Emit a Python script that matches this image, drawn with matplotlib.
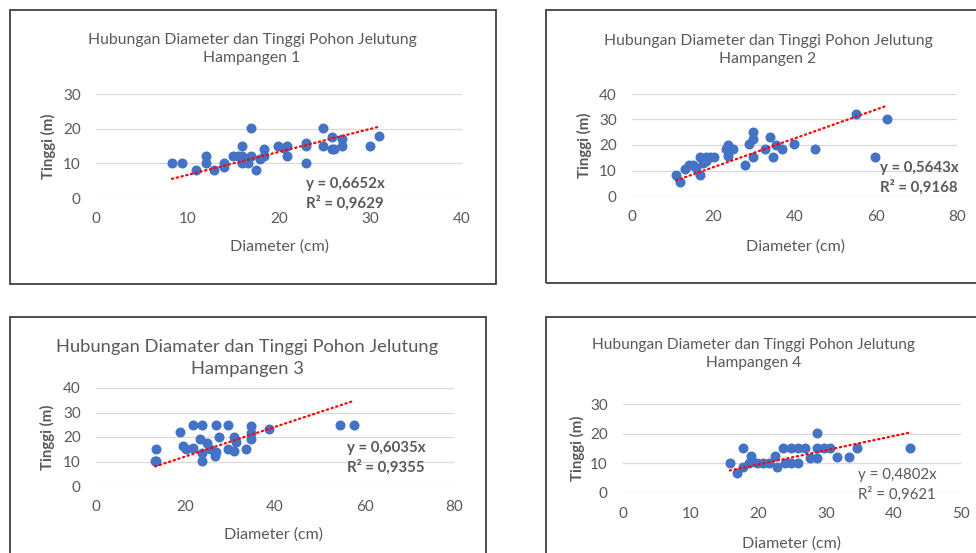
import matplotlib
matplotlib.use("Agg")
import matplotlib.pyplot as plt
from matplotlib.patches import Rectangle

plt.rcParams['font.family'] = ['Lato', 'DejaVu Sans']

W, H = 976, 553

# data (diameter cm, tinggi m)
d1 = [8.3, 9.4, 10.9, 12.0, 12.0, 12.9, 14.0, 14.0, 15.0, 15.5, 16.0, 16.0, 16.0, 16.6, 16.9, 16.9,
      17.5, 17.9, 18.4, 18.4, 19.9, 20.5, 20.9, 20.9, 22.9, 22.9, 22.9, 24.8, 24.8, 25.8, 25.8,
      26.0, 26.9, 26.9, 29.9, 30.9]
t1 = [10, 10, 8.2, 12, 10, 8.2, 10, 8.8, 12, 12, 15, 12, 10, 10, 20.2, 12,
      8.2, 11.3, 14.2, 12, 15, 14.5, 15, 12, 16, 15, 10, 20.2, 15, 17.6, 14.2,
      14, 17.1, 15, 15, 18]

d2 = [10.8, 11.7, 13.0, 14.0, 15.0, 15.8, 16.7, 16.7, 17.5, 18.1, 18.3, 19.1, 20.1, 23.1, 23.6,
      23.6, 24.9, 27.7, 28.8, 29.8, 29.8, 29.8, 32.7, 33.9, 34.7, 35.5, 37.0, 39.8, 45.0, 55.1,
      59.7, 62.8]
t2 = [8.2, 5.3, 10.4, 12.3, 12.3, 11, 15.3, 8.2, 12.9, 15.3, 13.6, 15.3, 15.3, 18.3, 20,
      15.5, 18.3, 12.3, 20.3, 25.1, 22.2, 15.3, 18.3, 23.2, 15.3, 20, 18.3, 20.3, 18.3, 32.2,
      15.3, 30]

d3 = [13.2, 13.5, 13.5, 18.8, 19.5, 20.2, 21.6, 21.7, 23.2, 23.6, 23.6, 23.6, 24.7, 25.4, 26.6,
      26.8, 26.8, 27.5, 29.5, 29.5, 30.8, 31.3, 30.8, 33.6, 34.7, 34.7, 34.7, 38.7, 54.6, 57.6]
t3 = [10.4, 10.1, 15.3, 22, 16.4, 15.1, 25, 15.7, 19.1, 25, 10.4, 13.5, 17.7, 15.1, 12.4,
      25, 14, 20.1, 25, 15.1, 20.1, 18, 14.2, 15.3, 19.1, 21.7, 24.4, 23.3, 25, 25]

d4 = [15.8, 16.8, 17.8, 17.8, 18.6, 18.9, 19.8, 20.7, 21.6, 22.5, 22.8, 23.7, 24.0, 24.8, 24.9,
      25.9, 25.9, 26.9, 27.7, 28.7, 28.7, 28.7, 29.7, 30.6, 31.7, 33.5, 34.6, 42.5]
t4 = [10, 6.7, 15.3, 8.9, 10, 12.4, 10, 10, 10, 12.4, 8.9, 15.3, 10, 15.3, 10,
      15.3, 10, 15.3, 11.7, 20.2, 15.3, 11.7, 15.3, 15.3, 12.2, 12.2, 15.3, 15.3]

slopes = [0.6652, 0.5643, 0.6035, 0.4802]
r2 = ["0,9629", "0,9168", "0,9355", "0,9621"]
titles = ["Hubungan Diameter dan Tinggi Pohon Jelutung\nHampangen 1",
          "Hubungan Diameter dan Tinggi Pohon Jelutung\nHampangen 2",
          "Hubungan Diamater dan Tinggi Pohon Jelutung\nHampangen 3",
          "Hubungan Diameter dan Tinggi Pohon Jelutung\nHampangen 4"]
xmax = [40, 80, 80, 50]
xstep = [10, 20, 20, 10]
ymax = [30, 40, 40, 30]

GRAY = '#595959'
BLUE = '#4472C4'

def fx(px):
    return px / W

def fy(py):
    return 1 - py / H

fig = plt.figure(figsize=(W / 100, H / 100), dpi=100)

# chart boxes (left, top, right, bottom) in pixels
boxes = [(10, 10, 496, 284), (546, 10, 990, 283), (10, 317, 486, 600), (546, 317, 990, 600)]
for l, t, r, b in boxes:
    fig.add_artist(Rectangle((fx(l), fy(b)), fx(r) - fx(l), fy(t) - fy(b),
                             transform=fig.transFigure, fill=False,
                             edgecolor='#404040', linewidth=1.3))

# plot areas (left, top, right, bottom) in pixels
areas = [(96, 94, 462, 198), (632, 94, 957, 196), (96, 388, 454, 486), (623, 404, 961, 493)]
title_pos = [(252, 49, 11.3), (768, 50, 11.3), (247, 358, 13.2), (754, 354, 11.2)]
xlab_pos = [(279, 247), (795, 247), (274, 535), (792, 544)]
ylab_x = [48, 584, 47, 577]
eq_pos = [(306, 194, 'bold'), (880, 178, 'bold'), (347, 458, 'bold'), (858, 485, 'normal')]

data = [(d1, t1), (d2, t2), (d3, t3), (d4, t4)]

for i in range(4):
    l, t, r, b = areas[i]
    ax = fig.add_axes([fx(l), fy(b), fx(r) - fx(l), fy(t) - fy(b)])
    ax.set_xlim(0, xmax[i])
    ax.set_ylim(0, ymax[i])
    ax.set_xticks(range(0, xmax[i] + 1, xstep[i]))
    ax.set_yticks(range(0, ymax[i] + 1, 10))
    ax.yaxis.grid(True, color='#D9D9D9', linewidth=0.9)
    ax.set_axisbelow(True)
    for s in ax.spines.values():
        s.set_visible(False)
    ax.tick_params(length=0, labelsize=11, labelcolor=GRAY)
    ax.tick_params(axis='x', pad=10)
    ax.tick_params(axis='y', pad=11)
    ax.patch.set_alpha(0)

    xs, ys = data[i]
    ax.plot(xs, ys, 'o', color=BLUE, markersize=6.2, clip_on=False, zorder=3)
    x0, x1 = min(xs), max(xs)
    ax.plot([x0, x1], [slopes[i] * x0, slopes[i] * x1], color='#FF0000',
            linewidth=1.6, linestyle=(0, (0.6, 1.6)), dash_capstyle='round',
            clip_on=False, zorder=4)

    tx, ty, ts = title_pos[i]
    fig.text(fx(tx), fy(ty), titles[i], ha='center', va='center', fontsize=ts,
             color=GRAY, linespacing=1.45)
    xl, yl = xlab_pos[i]
    fig.text(fx(xl), fy(yl), "Diameter (cm)", ha='center', va='center',
             fontsize=11.5, color=GRAY)
    fig.text(fx(ylab_x[i]), (fy(t) + fy(b)) / 2, "Tinggi (m)", ha='center', va='center',
             rotation=90, fontsize=10.8, color=GRAY, fontweight='bold')
    ex, ey, ew = eq_pos[i]
    fig.text(fx(ex), fy(ey), "y = %sx\nR² = %s" % (str(slopes[i]).replace('.', ','), r2[i]),
             ha='left', va='center', fontsize=10.8, color=GRAY, fontweight=ew,
             linespacing=1.4)

fig.savefig("out.png", dpi=100)
